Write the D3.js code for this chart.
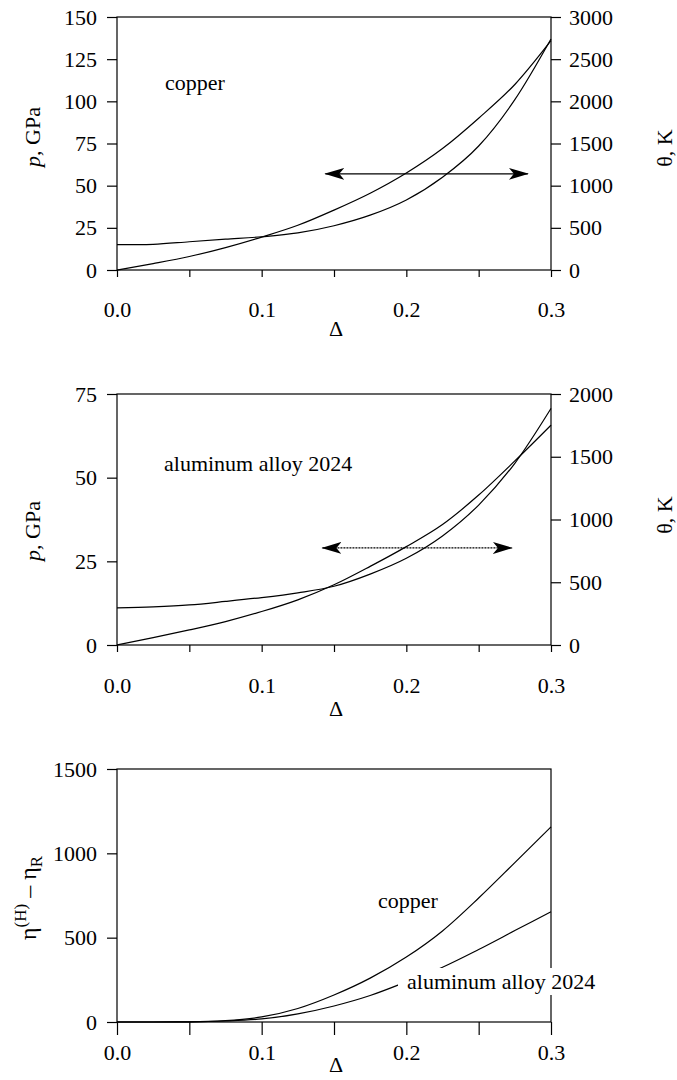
<!DOCTYPE html>
<html>
<head>
<meta charset="utf-8">
<script src="https://cdn.jsdelivr.net/npm/d3@7"></script>
<style>
body { margin: 0; background: #fff; }
text { font-family: "Liberation Serif", "Times New Roman", serif; fill: #000; }
</style>
</head>
<body>
<div id="chart"></div>
<script>
// strain values shared by every curve
var delta = [0, 0.025, 0.05, 0.075, 0.1, 0.125, 0.15, 0.175, 0.2, 0.225, 0.25, 0.275, 0.3];

// copper: pressure (GPa) and temperature (K)
var copperP = [0, 3.8, 8, 13.3, 19.5, 26.5, 35.5, 45.5, 57.5, 72, 90, 110, 136];
var copperT = [300, 305, 335, 365, 394, 440, 525, 650, 830, 1100, 1470, 2020, 2740];

// aluminum alloy 2024: pressure (GPa) and temperature (K)
var alP = [0, 2.2, 4.5, 7, 10, 13.5, 18, 23.5, 29.4, 36, 44.8, 55, 65.7];
var alT = [296, 304, 319, 347, 378, 416, 468, 565, 691, 869, 1115, 1448, 1885];

// eta(H) - eta_R
var copperEta = [0, 0, 1, 8, 30, 80, 160, 260, 385, 540, 735, 945, 1157];
var alEta = [0, 0, 1, 6, 18, 48, 95, 157, 238, 325, 430, 542, 654];

// double arrows: [from, to] in delta, level in GPa
var arrowCu = [0.144, 0.284], arrowCuLevel = 57;
var arrowAl = [0.142, 0.273], arrowAlLevel = 29;

// ticks
var xTicks = [0, 0.05, 0.1, 0.15, 0.2, 0.25, 0.3];
var xTickLabels = ["0.0", "", "0.1", "", "0.2", "", "0.3"];
var pTicksCu = [0, 25, 50, 75, 100, 125, 150];
var tTicksCu = [0, 500, 1000, 1500, 2000, 2500, 3000];
var pTicksAl = [0, 25, 50, 75];
var tTicksAl = [0, 500, 1000, 1500, 2000];
var etaTicks = [0, 500, 1000, 1500];

var svg = d3.select("#chart").append("svg")
    .attr("width", 677)
    .attr("height", 1080);

svg.append("defs").append("marker")
    .attr("id", "head")
    .attr("viewBox", "0 -7 20 14")
    .attr("refX", 19).attr("refY", 0)
    .attr("markerWidth", 20).attr("markerHeight", 14)
    .attr("markerUnits", "userSpaceOnUse")
    .attr("orient", "auto-start-reverse")
  .append("path")
    .attr("d", "M0,-6L20,0L0,6L5,0Z")
    .style("fill", "#000");

var left = 117, right = 551;
var x = d3.scaleLinear().domain([0, 0.3]).range([left, right]);

function styleAxis(g) {
    g.select(".domain").remove();
    g.selectAll("line").style("stroke", "#000").style("stroke-width", 1.2);
    g.selectAll("text")
        .style("font-family", "'Liberation Serif', 'Times New Roman', serif")
        .style("font-size", "22px");
}

function drawPanel(o) {
    var y = d3.scaleLinear().domain([0, o.yMax]).range([o.bottom, o.top]);

    var g = svg.append("g");

    g.append("g")
        .attr("transform", "translate(0," + o.bottom + ")")
        .call(d3.axisBottom(x).tickValues(xTicks)
            .tickFormat(function(d, i) { return xTickLabels[i]; })
            .tickSize(o.xTickLen).tickPadding(o.xTickPad))
        .call(styleAxis);

    g.append("g")
        .attr("transform", "translate(" + left + ",0)")
        .call(d3.axisLeft(y).tickValues(o.yTicks).tickFormat(String)
            .tickSize(10).tickPadding(10))
        .call(styleAxis);

    var y2 = null;
    if (o.y2Max) {
        y2 = d3.scaleLinear().domain([0, o.y2Max]).range([o.bottom, o.top]);
        g.append("g")
            .attr("transform", "translate(" + right + ",0)")
            .call(d3.axisRight(y2).tickValues(o.y2Ticks).tickFormat(String)
                .tickSize(10).tickPadding(8))
            .call(styleAxis);
    }

    g.append("rect")
        .attr("x", left).attr("y", o.top)
        .attr("width", right - left).attr("height", o.bottom - o.top)
        .style("fill", "none").style("stroke", "#000").style("stroke-width", 1.2);

    o.series.forEach(function(s) {
        var sc = s.axis == 2 ? y2 : y;
        var line = d3.line()
            .x(function(d, i) { return x(delta[i]); })
            .y(function(d) { return sc(d); })
            .curve(d3.curveMonotoneX);
        g.append("path")
            .datum(s.values)
            .attr("d", line)
            .style("fill", "none")
            .style("stroke", "#000")
            .style("stroke-width", 1.2);
    });

    if (o.arrow) {
        g.append("line")
            .attr("x1", x(o.arrow[0])).attr("x2", x(o.arrow[1]))
            .attr("y1", y(o.arrowLevel)).attr("y2", y(o.arrowLevel))
            .style("stroke", "#000")
            .style("stroke-width", 1.2)
            .style("stroke-dasharray", o.arrowDash || null)
            .attr("marker-start", "url(#head)")
            .attr("marker-end", "url(#head)");
    }

    o.labels.forEach(function(l) {
        var t = g.append("text")
            .attr("x", l.x).attr("y", l.y)
            .style("font-size", "22px")
            .text(l.text);
        if (l.knockout) {
            var b = t.node().getBBox();
            g.insert("rect", function() { return t.node(); })
                .attr("x", b.x - 9).attr("y", b.y - 1)
                .attr("width", b.width + 11).attr("height", b.height + 2)
                .style("fill", "#fff");
        }
    });

    g.append("text")
        .attr("x", 336).attr("y", o.deltaY)
        .attr("text-anchor", "middle")
        .style("font-size", "22px")
        .text("Δ");

    return g;
}

function pLabel(g, cx, cy) {
    var t = g.append("text")
        .attr("transform", "translate(" + cx + "," + cy + ") rotate(-90)")
        .attr("text-anchor", "middle")
        .style("font-size", "22px");
    t.append("tspan").style("font-style", "italic").text("p");
    t.append("tspan").text(", GPa");
}

function thetaLabel(g, cx, cy) {
    g.append("text")
        .attr("transform", "translate(" + cx + "," + cy + ") rotate(-90)")
        .attr("text-anchor", "middle")
        .style("font-size", "22px")
        .text("θ, K");
}

// copper panel
var g1 = drawPanel({
    top: 17, bottom: 270, yMax: 150, yTicks: pTicksCu,
    y2Max: 3000, y2Ticks: tTicksCu,
    xTickLen: 7, xTickPad: 24, deltaY: 336,
    series: [{values: copperP, axis: 1}, {values: copperT, axis: 2}],
    arrow: arrowCu, arrowLevel: arrowCuLevel,
    labels: [{x: 165, y: 90, text: "copper"}]
});
pLabel(g1, 40, 137);
thetaLabel(g1, 672, 148);

// aluminum alloy panel
var g2 = drawPanel({
    top: 394, bottom: 645, yMax: 75, yTicks: pTicksAl,
    y2Max: 2000, y2Ticks: tTicksAl,
    xTickLen: 7, xTickPad: 25, deltaY: 716,
    series: [{values: alP, axis: 1}, {values: alT, axis: 2}],
    arrow: arrowAl, arrowLevel: arrowAlLevel, arrowDash: "2,1",
    labels: [{x: 164, y: 471, text: "aluminum alloy 2024"}]
});
pLabel(g2, 40, 531);
thetaLabel(g2, 672, 515);

// eta panel
var g3 = drawPanel({
    top: 769, bottom: 1022, yMax: 1500, yTicks: etaTicks,
    xTickLen: 13, xTickPad: 9, deltaY: 1072,
    series: [{values: copperEta, axis: 1}, {values: alEta, axis: 1}],
    labels: [{x: 378, y: 908, text: "copper"},
             {x: 407, y: 989, text: "aluminum alloy 2024", knockout: true}]
});

var eta = g3.append("text")
    .attr("transform", "translate(36,898) rotate(-90)")
    .attr("text-anchor", "middle")
    .style("font-size", "24px");
eta.append("tspan").text("η");
eta.append("tspan").attr("dy", -10).style("font-size", "17px").text("(H)");
eta.append("tspan").attr("dy", 10).text(" – η");
eta.append("tspan").attr("dy", 6).style("font-size", "17px").text("R");
</script>
</body>
</html>
